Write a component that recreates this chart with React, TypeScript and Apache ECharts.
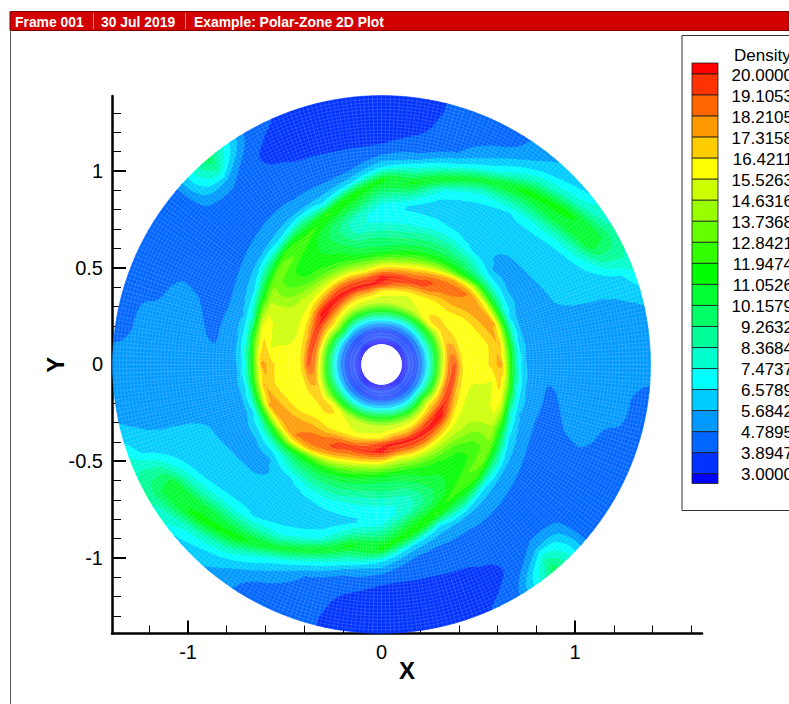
import React, { useEffect, useRef } from "react";
import * as echarts from "echarts";

const title = ["Frame 001", "30 Jul 2019", "Example: Polar-Zone 2D Plot"];
const legendTitle = "Density";
const levels = ["20.0000","19.1053","18.2105","17.3158","16.4211","15.5263","14.6316","13.7368","12.8421","11.9474","11.0526","10.1579","9.2632","8.3684","7.4737","6.5789","5.6842","4.7895","3.8947","3.0000"];
const bandColors = ["#ff0000","#ff3300","#ff6600","#ff9900","#ffcc00","#ffff00","#ccff00","#99ff00","#66ff00","#33ff00","#00ff00","#00ff33","#00ff66","#00ff99","#00ffcc","#00ffff","#00ccff","#0099ff","#0066ff","#0033ff","#0000ff"];
const xMajor = [-1, 0, 1];
const xMinor = [-1.2,-0.8,-0.6,-0.4,-0.2,0.2,0.4,0.6,0.8,1.2,1.4,1.6];
const yMajor = [-1, -0.5, 0, 0.5, 1];
const yMinor = [-1.3,-1.2,-1.1,-0.9,-0.8,-0.7,-0.6,-0.4,-0.3,-0.2,-0.1,0.1,0.2,0.3,0.4,0.6,0.7,0.8,0.9,1.1,1.2,1.3];

// ring radii in axis units, sector values from the hole to the rim
const ringRadii = [0.108,0.144,0.18,0.211,0.237,0.263,0.289,0.32,0.351,0.381,0.412,0.454,0.495,0.536,0.577,0.619,0.66,0.711,0.763,0.825,0.887,0.954,1.021,1.093,1.165,1.237,1.314,1.39];
const sector000 = [2.7,3.2,3.7,5,7,9.5,12.5,16,18.8,19.4,16.5,16,16,16.2,16.9,18,13,7,5.3,5.2,5.2,5.2,5.2,5.2,5.2,5.2,5.2,5.1];
const sector010 = [2.7,3.2,3.7,5,7,9.5,12,15.5,18,18,16.4,16,16,16,16.8,17.5,12.8,6.6,5.3,5.2,5.2,5.2,5.2,5.2,5.3,5.3,5.3,5.3];
const sector020 = [2.7,3.2,3.7,5,7,9.5,11.8,15,17.2,17,16.2,16,16,16.8,17.6,17.6,12,6.2,5.3,5.2,5.3,5.75,5.9,5.9,5.9,6,6.4,7.4];
const sector030 = [2.7,3.2,3.7,5,7.2,9.8,11.8,14.8,16.7,16.5,16,16,16.6,17.6,18,16,11,7,5.5,5.3,5.65,6,6.2,6.4,8.2,11,10.2,8.5];
const sector040 = [2.7,3.2,3.7,5,7.2,9.8,12,16,16.9,16.5,16,16.8,17.8,18.2,18.3,15.5,10.5,7,5.5,5.5,5.8,6,6.3,7.8,10.5,11.5,7.8,6.5];
const sector050 = [2.7,3.2,3.7,5.2,7.2,9.8,12.2,15.5,16.2,16,16,17.3,18.6,18.7,17.2,12,10,8.2,6.1,5.8,6.2,6.3,6.5,9,11.7,8.4,6.2,5.5];
const sector060 = [2.7,3.2,3.7,5.2,7.2,9.8,12.5,15,15.6,15.8,16.6,19,19.4,17.6,14.5,11.5,10,8.6,6.9,6.2,6.1,6.4,7.5,11,7,5.6,4.6,4.3];
const sector070 = [2.7,3.2,3.7,5.2,7.4,10,12.5,15,15.2,15.6,17.3,19.9,18.2,15.8,13,11,9.8,8.6,7,6.4,6.3,7.3,11.3,7,4.8,4.45,4.3,4.2];
const sector080 = [2.7,3.2,3.7,5.4,7.6,10.2,12.5,15,15.4,16,18.5,20.2,17.6,14.5,12,10.4,9.4,8,7,6.4,8.5,11.6,8,5,4.1,3.8,3.7,3.7];
const sector090 = [2.7,3.2,3.7,5.5,7.8,10.5,12.5,15,15.5,16.5,19.9,20.3,17,14,11.2,9.9,9.3,7.9,7,7.3,9.3,11.7,6.6,4.6,3.6,3.4,3.3,3.2];
const sector100 = [2.7,3.2,3.7,5.5,7.5,10,12.5,15,16,18,20.4,19,15.5,13.2,11,10,9,7.8,7.8,10.3,12,6.3,4.6,4.2,3.6,3.4,3.4,3.4];
const sector110 = [2.7,3.2,3.7,5.4,7.4,10,12.4,15,16.2,17.8,20.5,19,16,13.5,11.6,11,10.3,9.8,10.2,12.3,6.6,5,4.5,4.2,3.7,3.6,3.6,3.7];
const sector120 = [2.7,3.2,3.7,5.2,7.2,9.8,12.3,15,16.5,18.8,20.5,18.8,15.8,13.8,12,11.5,11.2,11.4,12.5,9.8,5.9,4.85,4.6,4.3,3.95,3.85,4,4.4];
const sector130 = [2.7,3.2,3.7,5.2,7.4,10,13,15.5,17.5,19.6,20.5,17.8,15.5,14,12.3,11.6,11.6,13,12.5,6.8,5.2,4.75,4.4,4.3,4.4,5.5,8.5,10];
const sector140 = [2.7,3.2,3.7,5.2,8,11,14,16.5,18,20.3,20.2,17,15.3,14.6,13.5,12.8,12.8,13.5,9.5,5.85,5,4.4,4.3,4.3,4.3,4.3,4.4,4.5];
const sector150 = [2.7,3.2,3.7,5,7.4,10,13,16,18.3,20.2,18.3,15.9,15.3,15,14.8,14.6,14.6,11,6.4,5.3,4.6,4.4,4.3,4.3,4.3,4.3,4.3,4.3];
const sector160 = [2.7,3.2,3.7,5,7.2,9.8,12.5,16,19,19.6,17,15.7,15.2,15,15,16.2,15,8,5.6,4.9,4.6,4.65,4.85,5,4.8,4.5,4.35,4.3];
const sector170 = [2.7,3.2,3.7,5,7,9.5,12.5,16,19,19.3,16.7,15.7,15.6,15.6,15.4,17,14,7.5,5.5,5,4.6,5,5.2,5.2,5.2,5.2,4.7,4.4];
const sector180 = [2.7,3.2,3.7,5,7,9.5,12.5,16,18.8,19.4,16.5,16,16,16.2,16.9,18,13,7,5.3,5.2,5.2,5.2,5.2,5.2,5.2,5.2,5.2,5.1];
const sector190 = [2.7,3.2,3.7,5,7,9.5,12,15.5,18,18,16.4,16,16,16,16.8,17.5,12.8,6.6,5.3,5.2,5.2,5.2,5.2,5.2,5.3,5.3,5.3,5.3];
const sector200 = [2.7,3.2,3.7,5,7,9.5,11.8,15,17.2,17,16.2,16,16,16.8,17.6,17.6,12,6.2,5.3,5.2,5.3,5.75,5.9,5.9,5.9,6,6.4,7.4];
const sector210 = [2.7,3.2,3.7,5,7.2,9.8,11.8,14.8,16.7,16.5,16,16,16.6,17.6,18,16,11,7,5.5,5.3,5.65,6,6.2,6.4,8.2,11,10.2,8.5];
const sector220 = [2.7,3.2,3.7,5,7.2,9.8,12,16,16.9,16.5,16,16.8,17.8,18.2,18.3,15.5,10.5,7,5.5,5.5,5.8,6,6.3,7.8,10.5,11.5,7.8,6.5];
const sector230 = [2.7,3.2,3.7,5.2,7.2,9.8,12.2,15.5,16.2,16,16,17.3,18.6,18.7,17.2,12,10,8.2,6.1,5.8,6.2,6.3,6.5,9,11.7,8.4,6.2,5.5];
const sector240 = [2.7,3.2,3.7,5.2,7.2,9.8,12.5,15,15.6,15.8,16.6,19,19.4,17.6,14.5,11.5,10,8.6,6.9,6.2,6.1,6.4,7.5,11,7,5.6,4.6,4.3];
const sector250 = [2.7,3.2,3.7,5.2,7.4,10,12.5,15,15.2,15.6,17.3,19.9,18.2,15.8,13,11,9.8,8.6,7,6.4,6.3,7.3,11.3,7,4.8,4.45,4.3,4.2];
const sector260 = [2.7,3.2,3.7,5.4,7.6,10.2,12.5,15,15.4,16,18.5,20.2,17.6,14.5,12,10.4,9.4,8,7,6.4,8.5,11.6,8,5,4.1,3.8,3.7,3.7];
const sector270 = [2.7,3.2,3.7,5.5,7.8,10.5,12.5,15,15.5,16.5,19.9,20.3,17,14,11.2,9.9,9.3,7.9,7,7.3,9.3,11.7,6.6,4.6,3.6,3.4,3.3,3.2];
const sector280 = [2.7,3.2,3.7,5.5,7.5,10,12.5,15,16,18,20.4,19,15.5,13.2,11,10,9,7.8,7.8,10.3,12,6.3,4.6,4.2,3.6,3.4,3.4,3.4];
const sector290 = [2.7,3.2,3.7,5.4,7.4,10,12.4,15,16.2,17.8,20.5,19,16,13.5,11.6,11,10.3,9.8,10.2,12.3,6.6,5,4.5,4.2,3.7,3.6,3.6,3.7];
const sector300 = [2.7,3.2,3.7,5.2,7.2,9.8,12.3,15,16.5,18.8,20.5,18.8,15.8,13.8,12,11.5,11.2,11.4,12.5,9.8,5.9,4.85,4.6,4.3,3.95,3.85,4,4.4];
const sector310 = [2.7,3.2,3.7,5.2,7.4,10,13,15.5,17.5,19.6,20.5,17.8,15.5,14,12.3,11.6,11.6,13,12.5,6.8,5.2,4.75,4.4,4.3,4.4,5.5,8.5,10];
const sector320 = [2.7,3.2,3.7,5.2,8,11,14,16.5,18,20.3,20.2,17,15.3,14.6,13.5,12.8,12.8,13.5,9.5,5.85,5,4.4,4.3,4.3,4.3,4.3,4.4,4.5];
const sector330 = [2.7,3.2,3.7,5,7.4,10,13,16,18.3,20.2,18.3,15.9,15.3,15,14.8,14.6,14.6,11,6.4,5.3,4.6,4.4,4.3,4.3,4.3,4.3,4.3,4.3];
const sector340 = [2.7,3.2,3.7,5,7.2,9.8,12.5,16,19,19.6,17,15.7,15.2,15,15,16.2,15,8,5.6,4.9,4.6,4.65,4.85,5,4.8,4.5,4.35,4.3];
const sector350 = [2.7,3.2,3.7,5,7,9.5,12.5,16,19,19.3,16.7,15.7,15.6,15.6,15.4,17,14,7.5,5.5,5,4.6,5,5.2,5.2,5.2,5.2,4.7,4.4];
const sectors = [sector000,sector010,sector020,sector030,sector040,sector050,sector060,sector070,sector080,sector090,sector100,sector110,sector120,sector130,sector140,sector150,sector160,sector170,sector180,sector190,sector200,sector210,sector220,sector230,sector240,sector250,sector260,sector270,sector280,sector290,sector300,sector310,sector320,sector330,sector340,sector350];

const FONT = "'Liberation Sans', Arial, sans-serif";
const MESH_RINGS = 72;
const MESH_SPOKES = 380;
const ANGLE_STEPS = 5;
const RADIAL_STEP = 0.014;
const SPIRAL_PITCH = 0.05;

type V = { r: number; a: number; v: number };
const edges = [Infinity, ...levels.map(Number), -Infinity];

function bandOf(v: number) {
  for (let b = 0; b < bandColors.length; b++) if (v >= edges[b + 1]) return b;
  return bandColors.length - 1;
}

function clipSide(poly: V[], level: number, keepAbove: boolean): V[] {
  const out: V[] = [];
  for (let i = 0; i < poly.length; i++) {
    const p = poly[i];
    const q = poly[(i + 1) % poly.length];
    const pIn = keepAbove ? p.v >= level : p.v <= level;
    const qIn = keepAbove ? q.v >= level : q.v <= level;
    if (pIn) out.push(p);
    if (pIn !== qIn) {
      const t = (level - p.v) / (q.v - p.v);
      out.push({ r: p.r + t * (q.r - p.r), a: p.a + t * (q.a - p.a), v: level });
    }
  }
  return out;
}

function sample(row: number[], r: number) {
  const n = ringRadii.length;
  if (r <= ringRadii[0]) return row[0];
  if (r >= ringRadii[n - 1]) return row[n - 1];
  let i = 0;
  while (ringRadii[i + 1] < r) i++;
  const t = (r - ringRadii[i]) / (ringRadii[i + 1] - ringRadii[i]);
  return row[i] + (row[i + 1] - row[i]) * t;
}

// contour field between two neighbouring sectors, following the arms' pitch
function field(stripEdge: number, r: number) {
  const n = sectors.length;
  const j = Math.floor(stripEdge / ANGLE_STEPS) % n;
  const t = (stripEdge % ANGLE_STEPS) / ANGLE_STEPS;
  const ramp = Math.min(1, Math.max(0, (r - 0.31) / 0.31));
  const k = SPIRAL_PITCH * ramp;
  const a = sample(sectors[j], r * Math.exp(k * t));
  if (t === 0) return a;
  const b = sample(sectors[(j + 1) % n], r * Math.exp(-k * (1 - t)));
  return a * (1 - t) + b * t;
}

const lattice: number[] = [];
for (let i = 0; i < ringRadii.length - 1; i++) {
  const m = Math.max(1, Math.round((ringRadii[i + 1] - ringRadii[i]) / RADIAL_STEP));
  for (let s = 0; s < m; s++) lattice.push(ringRadii[i] + ((ringRadii[i + 1] - ringRadii[i]) * s) / m);
}
lattice.push(ringRadii[ringRadii.length - 1]);

function renderStrip(_: any, api: any) {
  const strip = api.value(2);
  const step = (2 * Math.PI) / (sectors.length * ANGLE_STEPS);
  const a0 = strip * step;
  const a1 = (strip + 1) * step;
  const paths: string[] = bandColors.map(() => "");
  const pt = (r: number, a: number) => {
    const c = api.coord([r * Math.cos(a), r * Math.sin(a)]);
    return c[0].toFixed(2) + " " + c[1].toFixed(2);
  };
  const toPath = (poly: V[]) => poly.map((p, i) => (i ? "L" : "M") + pt(p.r, p.a)).join("") + "Z";
  let runBand = -1;
  let runStart = 0;
  const flush = (end: number) => {
    if (runBand >= 0) {
      paths[runBand] += "M" + pt(runStart, a0) + "L" + pt(end, a0) + "L" + pt(end, a1) + "L" + pt(runStart, a1) + "Z";
    }
    runBand = -1;
  };
  for (let i = 0; i < lattice.length - 1; i++) {
    const r0 = lattice[i];
    const r1 = lattice[i + 1];
    const A: V = { r: r0, a: a0, v: field(strip, r0) };
    const B: V = { r: r1, a: a0, v: field(strip, r1) };
    const C: V = { r: r1, a: a1, v: field(strip + 1, r1) };
    const D: V = { r: r0, a: a1, v: field(strip + 1, r0) };
    const bands = [bandOf(A.v), bandOf(B.v), bandOf(C.v), bandOf(D.v)];
    if (bands.every((x) => x === bands[0])) {
      if (runBand !== bands[0]) {
        flush(r0);
        runBand = bands[0];
        runStart = r0;
      }
      continue;
    }
    flush(r0);
    const M: V = { r: (r0 + r1) / 2, a: (a0 + a1) / 2, v: (A.v + B.v + C.v + D.v) / 4 };
    for (const tri of [[A, B, M], [B, C, M], [C, D, M], [D, A, M]]) {
      const lo = Math.min(tri[0].v, tri[1].v, tri[2].v);
      const hi = Math.max(tri[0].v, tri[1].v, tri[2].v);
      for (let b = bandOf(hi); b <= bandOf(lo); b++) {
        const top = edges[b];
        const bot = edges[b + 1];
        let poly: V[] = tri;
        if (isFinite(bot)) poly = clipSide(poly, bot, true);
        if (poly.length >= 3 && isFinite(top)) poly = clipSide(poly, top, false);
        if (poly.length >= 3) paths[b] += toPath(poly);
      }
    }
  }
  flush(lattice[lattice.length - 1]);
  const children: any[] = [];
  paths.forEach((d, b) => {
    if (d) children.push({ type: "path", shape: { pathData: d }, style: { fill: bandColors[b], stroke: bandColors[b], lineWidth: 0.6 } });
  });
  return { type: "group", children };
}

function renderMesh(_: any, api: any) {
  const rIn = ringRadii[0];
  const rOut = ringRadii[ringRadii.length - 1];
  let d = "";
  for (let s = 0; s < MESH_SPOKES; s++) {
    const a = (s / MESH_SPOKES) * 2 * Math.PI;
    const p = api.coord([rIn * Math.cos(a), rIn * Math.sin(a)]);
    const q = api.coord([rOut * Math.cos(a), rOut * Math.sin(a)]);
    d += "M" + p[0].toFixed(2) + " " + p[1].toFixed(2) + "L" + q[0].toFixed(2) + " " + q[1].toFixed(2);
  }
  for (let i = 1; i < MESH_RINGS; i++) {
    const r = rIn + ((rOut - rIn) * i) / MESH_RINGS;
    for (let s = 0; s <= 120; s++) {
      const a = (s / 120) * 2 * Math.PI;
      const p = api.coord([r * Math.cos(a), r * Math.sin(a)]);
      d += (s ? "L" : "M") + p[0].toFixed(2) + " " + p[1].toFixed(2);
    }
  }
  return { type: "path", shape: { pathData: d }, style: { fill: "none", stroke: "rgba(255,255,255,0.25)", lineWidth: 0.5 } };
}

function buildStrips() {
  const strips: number[][] = [];
  const total = sectors.length * ANGLE_STEPS;
  for (let s = 0; s < total; s++) {
    const a = ((s + 0.5) * 2 * Math.PI) / total;
    strips.push([Math.cos(a), Math.sin(a), s]);
  }
  return strips;
}

function buildGraphics() {
  const g: any[] = [];
  g.push({ type: "rect", shape: { x: 10, y: 11.5, width: 779, height: 19 }, style: { fill: "#d20000", stroke: "#7a0000", lineWidth: 1 }, z: 20 });
  g.push({ type: "rect", shape: { x: 10, y: 30, width: 1, height: 674 }, style: { fill: "#555555" }, z: 20 });
  const titleX = [15, 101, 194];
  title.forEach((t, i) => g.push({ type: "text", x: titleX[i], y: 21.5, style: { text: t, fill: "#ffffff", font: "bold 13.9px " + FONT, verticalAlign: "middle" }, z: 21 }));
  [93, 185].forEach((x) => g.push({ type: "rect", shape: { x, y: 13, width: 1, height: 16 }, style: { fill: "#e88a8a" }, z: 21 }));
  g.push({ type: "rect", shape: { x: 682, y: 35.5, width: 130, height: 475 }, style: { fill: "#ffffff", stroke: "#333333", lineWidth: 1 }, z: 20 });
  g.push({ type: "text", x: 734, y: 55, style: { text: legendTitle, fill: "#000000", font: "17px " + FONT, verticalAlign: "middle" }, z: 21 });
  const pitch = 21.04;
  const firstLine = 74;
  bandColors.forEach((c, i) => {
    const y0 = i === 0 ? 63 : firstLine + (i - 1) * pitch;
    const y1 = i === bandColors.length - 1 ? 483.5 : firstLine + i * pitch;
    g.push({ type: "rect", shape: { x: 692, y: y0, width: 26, height: y1 - y0 }, style: { fill: c, stroke: "#1a1a1a", lineWidth: 0.8 }, z: 21 });
  });
  levels.forEach((t, i) => g.push({ type: "text", x: 793, y: firstLine + i * pitch + 1, style: { text: t, fill: "#000000", font: "17px " + FONT, align: "right", verticalAlign: "middle" }, z: 21 }));
  return g;
}

export default function App() {
  const ref = useRef<HTMLDivElement>(null);
  useEffect(() => {
    const chart = echarts.init(ref.current!, null, { renderer: "svg" });
    const xMin = -1.393, xMax = 1.656, yMin = -1.391, yMax = 1.388;
    const lineStyle = { color: "#000000", width: 2.5 };
    const axisBase = { type: "value", splitLine: { show: false } };
    chart.setOption({
      animation: false,
      backgroundColor: "#ffffff",
      grid: { left: 112, top: 96, width: 590, height: 537.5, containLabel: false },
      xAxis: [
        { ...axisBase, min: xMin, max: xMax, position: "bottom", name: "X", nameLocation: "middle", nameGap: 25, nameMoveOverlap: false,
          nameTextStyle: { fontFamily: FONT, fontWeight: "bold", fontSize: 24, color: "#000" },
          axisLine: { show: true, onZero: false, lineStyle },
          axisTick: { show: true, inside: true, length: 13, lineStyle: { color: "#000", width: 2 }, customValues: xMajor },
          axisLabel: { show: true, margin: 8, fontFamily: FONT, fontSize: 20, color: "#000", customValues: xMajor } },
        { ...axisBase, min: xMin, max: xMax, position: "bottom",
          axisLine: { show: false, onZero: false },
          axisTick: { show: true, inside: true, length: 8, lineStyle: { color: "#000", width: 1 }, customValues: xMinor },
          axisLabel: { show: false } },
      ],
      yAxis: [
        { ...axisBase, min: yMin, max: yMax, position: "left", name: "Y", nameLocation: "middle", nameGap: 45, nameMoveOverlap: false,
          nameTextStyle: { fontFamily: FONT, fontWeight: "bold", fontSize: 24, color: "#000" },
          axisLine: { show: true, onZero: false, lineStyle },
          axisTick: { show: true, inside: true, length: 14, lineStyle: { color: "#000", width: 2 }, customValues: yMajor },
          axisLabel: { show: true, margin: 9, fontFamily: FONT, fontSize: 20, color: "#000", customValues: yMajor } },
        { ...axisBase, min: yMin, max: yMax, position: "left",
          axisLine: { show: false, onZero: false },
          axisTick: { show: true, inside: true, length: 9, lineStyle: { color: "#000", width: 1 }, customValues: yMinor },
          axisLabel: { show: false } },
      ],
      series: [
        { type: "custom", coordinateSystem: "cartesian2d", silent: true, clip: false, renderItem: renderStrip, data: buildStrips(), encode: { x: 0, y: 1 }, z: 1 },
        { type: "custom", coordinateSystem: "cartesian2d", silent: true, clip: false, renderItem: renderMesh, data: [[0, 0]], encode: { x: 0, y: 1 }, z: 2 },
      ],
      graphic: buildGraphics(),
    });
    return () => chart.dispose();
  }, []);
  return <div ref={ref} style={{ position: "absolute", left: 0, top: 0, width: 789, height: 704, overflow: "hidden" }} />;
}
